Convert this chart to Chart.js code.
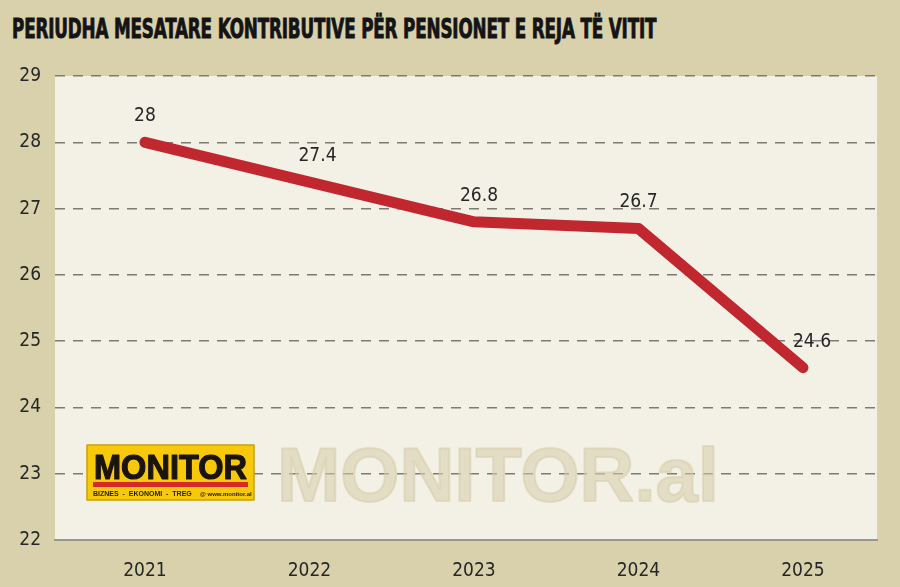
<!DOCTYPE html>
<html>
<head>
<meta charset="utf-8">
<script src="https://cdn.jsdelivr.net/npm/chart.js@4.4.0/dist/chart.umd.min.js"></script>
<style>
  html, body { margin: 0; padding: 0; background: #d8d1ab; }
  #wrap { position: relative; width: 900px; height: 587px; }
  #title {
    position: absolute; left: 12px; top: 13px;
    font-family: "DejaVu Sans Condensed", "Liberation Sans Narrow", sans-serif;
    font-weight: bold; font-size: 27px; color: #141414;
    transform: scaleX(0.69); transform-origin: left top; white-space: nowrap;
    -webkit-text-stroke: 0.9px #141414;
    letter-spacing: -0.2px;
  }
  canvas { position: absolute; left: 0; top: 0; }
</style>
</head>
<body>
<div id="wrap">
  <div id="title">PERIUDHA MESATARE KONTRIBUTIVE PËR PENSIONET E REJA TË VITIT</div>
  <canvas id="chart" width="900" height="587"></canvas>
</div>
<script>
const years = [2021, 2022, 2023, 2024, 2025];
const values = [28, 27.4, 26.8, 26.7, 24.6];
const yTicks = [22, 23, 24, 25, 26, 27, 28, 29];

const FONT = '"DejaVu Sans Condensed", "Liberation Sans Narrow", sans-serif';

// cream plot panel + watermark + logo, drawn under the line
const panelPlugin = {
  id: "panel",
  beforeDraw(chart) {
    const { ctx, chartArea: a } = chart;
    ctx.save();
    ctx.fillStyle = "#f3f1e6";
    ctx.fillRect(a.left, a.top, a.right - a.left, a.bottom - a.top);
    ctx.restore();
  },
  beforeDatasetsDraw(chart) {
    const ctx = chart.ctx;
    ctx.save();
    // watermark
    ctx.fillStyle = "rgba(214, 204, 170, 0.55)";
    ctx.strokeStyle = "rgba(214, 204, 170, 0.55)";
    ctx.lineWidth = 2;
    ctx.lineJoin = "round";
    ctx.font = "bold 76px 'Liberation Sans', Arial, sans-serif";
    ctx.textBaseline = "alphabetic";
    ctx.fillText("MONITOR.al", 277, 501);
    ctx.strokeText("MONITOR.al", 277, 501);

    // logo box
    ctx.fillStyle = "#f7c90a";
    ctx.strokeStyle = "#c9a200";
    ctx.lineWidth = 1.5;
    ctx.fillRect(87, 445, 167, 55);
    ctx.strokeRect(87, 445, 167, 55);
    ctx.fillStyle = "#1a1410";
    ctx.strokeStyle = "#1a1410";
    ctx.lineWidth = 1.2;
    ctx.font = "bold 35px 'Liberation Sans', Arial, sans-serif";
    ctx.save();
    ctx.translate(94, 479);
    ctx.scale(0.93, 1);
    ctx.fillText("MONITOR", 0, 0);
    ctx.strokeText("MONITOR", 0, 0);
    ctx.restore();
    ctx.fillStyle = "#d8282a";
    ctx.fillRect(93, 482, 155, 5);
    ctx.fillStyle = "#2a2218";
    ctx.font = "bold 7px 'Liberation Sans', Arial, sans-serif";
    ctx.fillText("BIZNES  -  EKONOMI  -  TREG", 93, 496);
    ctx.font = "bold 6px 'Liberation Sans', Arial, sans-serif";
    ctx.fillText("@ www.monitor.al", 200, 496);
    ctx.restore();
  },
};

// value labels above the points
const labelNudge = [0, 8, 5, 0, 9];
const valueLabels = {
  id: "valueLabels",
  afterDatasetsDraw(chart) {
    const ctx = chart.ctx;
    const meta = chart.getDatasetMeta(0);
    ctx.save();
    ctx.font = "19px " + FONT;
    ctx.fillStyle = "#262626";
    ctx.textAlign = "center";
    ctx.textBaseline = "middle";
    meta.data.forEach((pt, i) => {
      ctx.fillText(String(values[i]), pt.x + labelNudge[i], pt.y - 26);
    });
    ctx.restore();
  },
};

new Chart(document.getElementById("chart"), {
  type: "line",
  data: {
    datasets: [{
      data: years.map((y, i) => ({ x: y, y: values[i] })),
      borderColor: "#c1272f",
      borderWidth: 11,
      borderCapStyle: "round",
      borderJoinStyle: "round",
      pointRadius: 0,
      tension: 0,
    }],
  },
  options: {
    responsive: false,
    animation: false,
    layout: { padding: { top: 76, right: 23, left: 0, bottom: 0 } },
    plugins: { legend: { display: false }, tooltip: { enabled: false } },
    scales: {
      x: {
        type: "linear",
        min: 2020.453,
        max: 2025.45,
        afterBuildTicks: (s) => { s.ticks = years.map((v) => ({ value: v })); },
        afterFit: (s) => { s.height = 47; },
        ticks: {
          color: "#262626",
          font: { family: FONT, size: 19 },
          padding: 12,
          callback: (v) => String(v),
        },
        grid: { display: false },
        border: { display: true, color: "#9a978c", width: 2 },
      },
      y: {
        min: 22,
        max: 29,
        afterBuildTicks: (s) => { s.ticks = yTicks.map((v) => ({ value: v })); },
        afterFit: (s) => { s.width = 55; },
        ticks: {
          color: "#262626",
          font: { family: FONT, size: 19 },
          padding: 14,
        },
        grid: { color: "#7c7a72", lineWidth: 1.5, drawTicks: false },
        border: { display: false, dash: [10, 8] },
      },
    },
  },
  plugins: [panelPlugin, valueLabels],
});
</script>
</body>
</html>
